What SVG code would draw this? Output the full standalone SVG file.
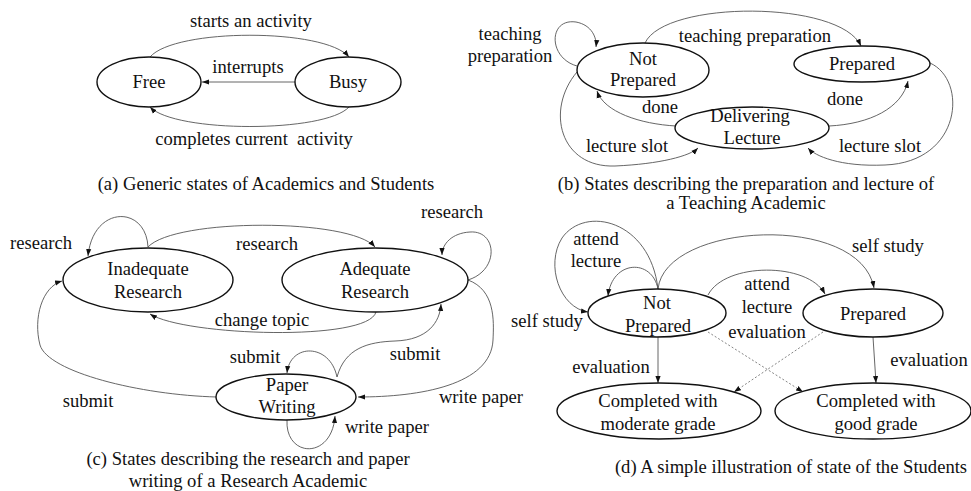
<svg xmlns="http://www.w3.org/2000/svg" width="971" height="491" viewBox="0 0 971 491" font-family="'Liberation Serif', 'DejaVu Serif', serif">
  <style>
    text { font-family: 'Liberation Serif', 'DejaVu Serif', serif; font-size: 18.6px; fill: #111; text-anchor: middle; }
    .node ellipse { fill: #fff; stroke: #111; stroke-width: 1.4; }
    .edge { fill: none; stroke: #555; stroke-width: 0.9; marker-end: url(#arr); }
    .dash { fill: none; stroke: #777; stroke-width: 0.9; stroke-dasharray: 2 2; marker-end: url(#arr); }
    .pre { white-space: pre; }
  </style>
  <defs>
    <marker id="arr" viewBox="0 0 10 10" refX="10" refY="5" markerWidth="7" markerHeight="7" orient="auto" markerUnits="userSpaceOnUse">
      <path d="M0,1.3 L10,5 L0,8.7 z" fill="#111"/>
    </marker>
  </defs>
  <rect width="971" height="491" fill="#fff"/>

  <!-- (a) generic states -->
  <g id="connectors-a">
    <path class="edge" d="M150,57 C175,28 325,28 349,57"/>
    <path class="edge" d="M295,82 L202,82"/>
    <path class="edge" d="M349,107 C325,133 175,133 150,107"/>
    <text x="251" y="27">starts an activity</text>
    <text x="248" y="73">interrupts</text>
    <text x="254" y="145" class="pre">completes current  activity</text>
  </g>
  <g id="a-free" class="node"><ellipse cx="149" cy="82" rx="52" ry="25"/><text x="149" y="88">Free</text></g>
  <g id="a-busy" class="node"><ellipse cx="348" cy="82" rx="53" ry="25"/><text x="348" y="88">Busy</text></g>
  <text x="266" y="190">(a) Generic states of Academics and Students</text>

  <!-- (b) teaching academic -->
  <g id="connectors-b">
    <path class="edge" d="M577,66 C548,58 548,18 576,22 C592,25 597,38 596,47"/>
    <path class="edge" d="M645,43 C665,0 840,0 861,46"/>
    <path class="edge" d="M676,126 C640,124 604,112 597,91"/>
    <path class="edge" d="M829,126 C870,124 902,108 908,81"/>
    <path class="edge" d="M577,72 C545,110 560,168 615,166 C660,164 690,156 698,148"/>
    <path class="edge" d="M930,63 C968,80 962,162 885,165 C840,167 815,156 808,148"/>
    <text x="510" y="40">teaching</text>
    <text x="510" y="62">preparation</text>
    <text x="755" y="42">teaching preparation</text>
    <text x="660" y="113">done</text>
    <text x="845" y="105">done</text>
    <text x="627" y="152">lecture slot</text>
    <text x="880" y="152">lecture slot</text>
  </g>
  <g id="b-not-prepared" class="node"><ellipse cx="643" cy="70" rx="66" ry="27"/><text x="643" y="65">Not</text><text x="643" y="86">Prepared</text></g>
  <g id="b-prepared" class="node"><ellipse cx="862" cy="64" rx="68" ry="18"/><text x="862" y="70">Prepared</text></g>
  <g id="b-delivering" class="node"><ellipse cx="752" cy="128" rx="77" ry="21"/><text x="750" y="122">Delivering</text><text x="752" y="144">Lecture</text></g>
  <text x="746" y="190">(b) States describing the preparation and lecture of</text>
  <text x="746" y="209">a Teaching Academic</text>

  <!-- (c) research academic -->
  <g id="connectors-c">
    <path class="edge" d="M148,247 C146,205 93,205 88,256"/>
    <path class="edge" d="M148,247 C175,218 350,218 375,247"/>
    <path class="edge" d="M376,312 C368,342 185,336 150,314"/>
    <path class="edge" d="M468,280 C500,270 497,230 470,232 C452,233 442,244 442,255"/>
    <path class="edge" d="M468,280 C495,290 494,320 493,340 C491,385 420,397 358,397"/>
    <path class="edge" d="M337,377 C345,348 368,342 395,341 C428,340 440,322 441,304"/>
    <path class="edge" d="M337,377 C330,343 290,343 287,373"/>
    <path class="edge" d="M287,420 C285,458 332,460 335,416"/>
    <path class="edge" d="M217,397 C140,395 48,372 40,345 C33,318 42,287 62,281"/>
    <text x="41" y="249">research</text>
    <text x="267" y="250">research</text>
    <text x="262" y="326">change topic</text>
    <text x="452" y="218">research</text>
    <text x="481" y="403">write paper</text>
    <text x="415" y="360">submit</text>
    <text x="255" y="363">submit</text>
    <text x="387" y="433">write paper</text>
    <text x="88" y="407">submit</text>
  </g>
  <g id="c-inadequate" class="node"><ellipse cx="148" cy="280" rx="85" ry="32"/><text x="148" y="275">Inadequate</text><text x="148" y="298">Research</text></g>
  <g id="c-adequate" class="node"><ellipse cx="375" cy="280" rx="93" ry="32"/><text x="375" y="275">Adequate</text><text x="375" y="298">Research</text></g>
  <g id="c-paper" class="node"><ellipse cx="286" cy="397" rx="70" ry="23"/><text x="287" y="391">Paper</text><text x="287" y="413">Writing</text></g>
  <text x="248" y="465">(c) States describing the research and paper</text>
  <text x="248" y="487">writing of a Research Academic</text>

  <!-- (d) students -->
  <g id="connectors-d">
    <path class="edge" d="M658,289 C652,258 612,260 608,296"/>
    <path class="edge" d="M658,289 C650,220 585,205 562,238 C545,265 560,308 588,312"/>
    <path class="edge" d="M658,289 C665,222 860,212 874,288"/>
    <path class="edge" d="M708,295 C725,262 808,262 825,294"/>
    <path class="dash" d="M708,332 L803,392"/>
    <path class="dash" d="M823,332 L734,392"/>
    <path class="edge" d="M658,337 L658,383"/>
    <path class="edge" d="M873,337 L876,383"/>
    <text x="596" y="245">attend</text>
    <text x="596" y="267">lecture</text>
    <text x="547" y="327">self study</text>
    <text x="888" y="252">self study</text>
    <text x="767" y="290">attend</text>
    <text x="767" y="313">lecture</text>
    <text x="767" y="338">evaluation</text>
    <text x="611" y="373">evaluation</text>
    <text x="929" y="366">evaluation</text>
  </g>
  <g id="d-not-prepared" class="node"><ellipse cx="657" cy="313" rx="69" ry="24"/><text x="657" y="309">Not</text><text x="658" y="332">Prepared</text></g>
  <g id="d-prepared" class="node"><ellipse cx="873" cy="313" rx="70" ry="24"/><text x="873" y="320">Prepared</text></g>
  <g id="d-moderate" class="node"><ellipse cx="659" cy="411" rx="102" ry="28"/><text x="658" y="407">Completed with</text><text x="658" y="430">moderate grade</text></g>
  <g id="d-good" class="node"><ellipse cx="873" cy="411" rx="98" ry="28"/><text x="876" y="407">Completed with</text><text x="876" y="430">good grade</text></g>
  <text x="791" y="473">(d) A simple illustration of state of the Students</text>
</svg>
